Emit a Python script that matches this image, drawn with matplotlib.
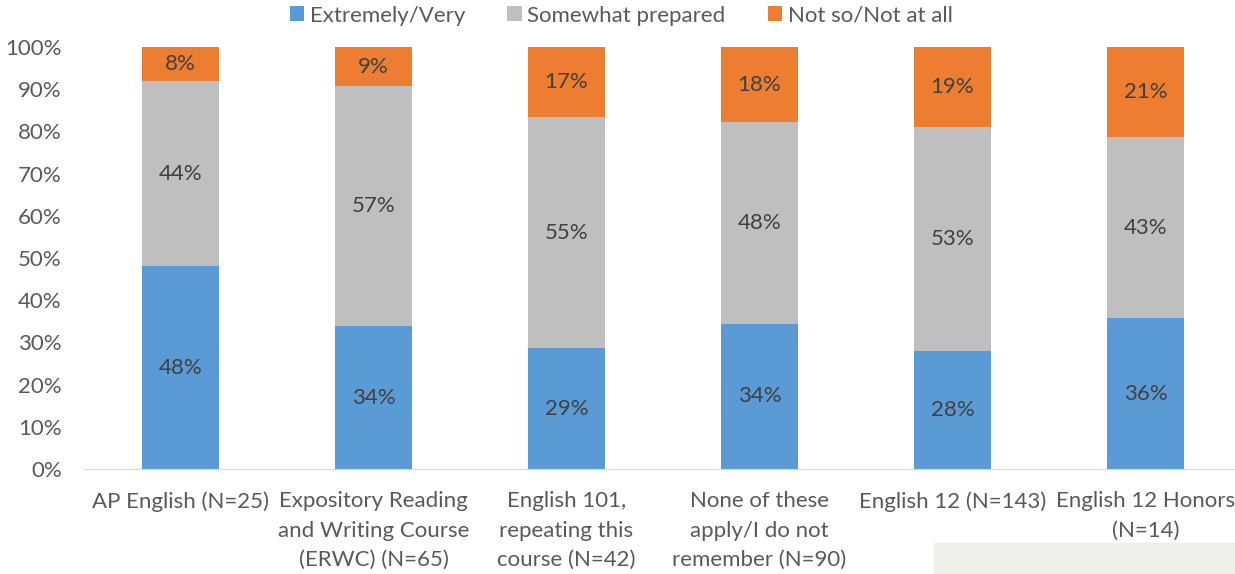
import matplotlib
matplotlib.use("Agg")
from matplotlib import pyplot as plt
from matplotlib.patches import Rectangle
from matplotlib.ticker import PercentFormatter
import numpy as np

categories = ["AP English (N=25)",
              "Expository Reading\nand Writing Course\n(ERWC) (N=65)",
              "English 101,\nrepeating this\ncourse (N=42)",
              "None of these\napply/I do not\nremember (N=90)",
              "English 12 (N=143)",
              "English 12 Honors\n(N=14)"]
extremely = [48.0, 33.8, 28.6, 34.4, 28.0, 35.7]
somewhat = [44.0, 56.9, 54.8, 47.8, 53.1, 42.9]
not_so = [8.0, 9.2, 16.7, 17.8, 18.9, 21.4]
series_names = ["Extremely/Very", "Somewhat prepared", "Not so/Not at all"]
colors = ["#5B9BD5", "#BFBFBF", "#ED7D31"]

plt.rcParams['font.family'] = ['Lato', 'DejaVu Sans']

fig = plt.figure(figsize=(12.35, 5.74), dpi=100)
# plot area runs a little past the right edge, as in the original
ax = fig.add_axes([84/1235, 105/574, 1158/1235, 422/574])

x = np.arange(len(categories))
bottom = np.zeros(len(categories))
for vals, name, col in zip([extremely, somewhat, not_so], series_names, colors):
    vals = np.array(vals)
    ax.bar(x, vals, 0.4, bottom=bottom, color=col, label=name, zorder=2)
    for xi, b, v in zip(x, bottom, vals):
        ax.text(xi, b + v/2, "%d%%" % round(v), ha='center', va='center',
                fontsize=16, color='#404040', zorder=3)
    bottom = bottom + vals

ax.set_ylim(0, 100)
ax.set_xlim(-0.5, 5.5)
ax.yaxis.set_major_locator(plt.MultipleLocator(10))
ax.yaxis.set_major_formatter(PercentFormatter(decimals=0))
ax.set_xticks(x)
ax.set_xticklabels(categories, fontsize=16, color='#595959', linespacing=1.58)
ax.tick_params(axis='y', labelsize=16, labelcolor='#595959', length=0, pad=16)
ax.tick_params(axis='x', length=0, pad=16)
for s in ['top', 'right', 'left']:
    ax.spines[s].set_visible(False)
ax.spines['bottom'].set_color('#D9D9D9')

fig.legend(loc='upper center', bbox_to_anchor=(0.503, 1.025), ncol=3, frameon=False,
           fontsize=16, handlelength=0.65, handleheight=0.65, handletextpad=0.25,
           columnspacing=1.9, labelcolor='#595959')

fig.patches.append(Rectangle((934/1235, 0), (1235-934)/1235, 31/574,
                             transform=fig.transFigure, color='#EDEFE8', zorder=0))

fig.savefig("out.png", dpi=100)
